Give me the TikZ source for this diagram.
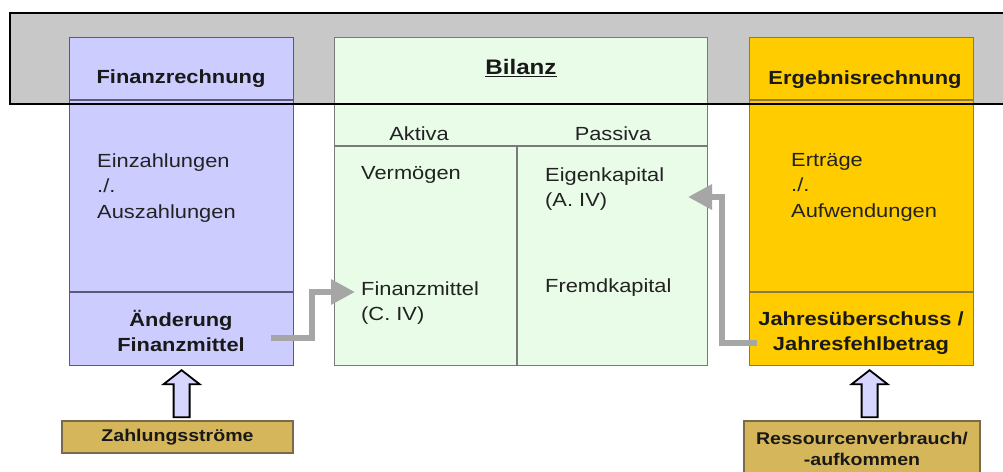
\documentclass[tikz,border=0pt]{standalone}
\usepackage{fontspec}
\setmainfont{Liberation Sans}[FakeStretch=1.15]
\usetikzlibrary{arrows.meta,calc}
\definecolor{bandgray}{HTML}{C8C8C8}
\definecolor{bluefill}{HTML}{CCCCFF}
\definecolor{greenfill}{HTML}{E8FCE8}
\definecolor{yellowfill}{HTML}{FFCC00}
\definecolor{tanfill}{HTML}{D6B65A}
\definecolor{hollowfill}{HTML}{D6D6FF}
\definecolor{conncol}{HTML}{A6A6A6}
\definecolor{blueline}{HTML}{5A5A78}
\definecolor{greenline}{HTML}{7A7A7A}
\definecolor{yellowline}{HTML}{8C7A3C}
\definecolor{tanline}{HTML}{7A6A4A}
\definecolor{txtcol}{HTML}{222222}
\tikzset{
  panel/.style={anchor=north west, inner sep=0pt, line width=1.2pt},
  bluebox/.style={panel, fill=bluefill, draw=blueline},
  greenbox/.style={panel, fill=greenfill, draw=greenline},
  yellowbox/.style={panel, fill=yellowfill, draw=yellowline},
  tanbox/.style={fill=tanfill, draw=tanline, line width=1.2pt, inner sep=0pt, align=center,
    font=\bfseries\fontsize{17}{21}\selectfont, text=black!90},
  tx/.style={inner sep=0pt, align=left, text=txtcol, font=\fontsize{19}{25.5}\selectfont},
  hd/.style={inner sep=0pt, align=center, text=black!90, font=\bfseries\fontsize{19}{25}\selectfont},
  conn/.style={draw=conncol, line width=6pt, line join=miter, -{Triangle[length=24pt,width=24pt]}},
  hollow/.style={draw=black, fill=hollowfill, line width=1.8pt, line join=miter},
  divider/.style={line width=1.2pt}
}
\begin{document}
\begin{tikzpicture}[x=1pt,y=-1pt]
\useasboundingbox (0,0) rectangle (1003,471);
\fill[white] (0,0) rectangle (1003,471);
% grey band (fill behind)
\fill[bandgray] (10,13) rectangle (1010,104);
% panels
\node[bluebox, minimum width=224pt, minimum height=328pt] (fr) at (69,37) {};
\node[greenbox, minimum width=373pt, minimum height=328pt] (bi) at (334,37) {};
\node[yellowbox, minimum width=224pt, minimum height=328pt] (eg) at (749,37) {};
% dividers
\draw[divider, blueline] (fr.west |- 0,100) -- (fr.east |- 0,100);
\draw[divider, blueline] (fr.west |- 0,292) -- (fr.east |- 0,292);
\draw[divider, yellowline] (eg.west |- 0,100) -- (eg.east |- 0,100);
\draw[divider, yellowline] (eg.west |- 0,292) -- (eg.east |- 0,292);
\draw[divider, greenline] (bi.west |- 0,104) -- (bi.east |- 0,104);
\draw[divider, greenline] (bi.west |- 0,146) -- (bi.east |- 0,146);
\draw[divider, greenline] (517,146) -- (bi.south -| 517,0);
% band border on top
\draw[line width=2pt] (1010,13) -- (10,13) -- (10,104) -- (1010,104);
% texts
\node[hd] (frt) at (181,79) {Finanzrechnung};
\node[hd, font=\bfseries\fontsize{21}{24}\selectfont] (bit) at (521,68) {\underline{Bilanz}};
\node[hd] (egt) at (865,80) {Ergebnisrechnung};
\node[tx] (akt) at (419,134) {Aktiva};
\node[tx] (pas) at (613,134) {Passiva};
\node[tx, anchor=west] (ein) at (97,188) {Einzahlungen\\./.\\Auszahlungen};
\node[tx, anchor=west] (verm) at (361,175) {Vermögen};
\node[tx, anchor=west] (ek) at (545,189) {Eigenkapital\\(A. IV)};
\node[tx, anchor=west] (fm) at (361,303) {Finanzmittel\\(C. IV)};
\node[tx, anchor=west] (fk) at (545,288) {Fremdkapital};
\node[tx, anchor=west] (ertr) at (791,187) {Erträge\\./.\\Aufwendungen};
\node[hd] (aend) at (181,331) {Änderung\\Finanzmittel};
\node[hd] (jue) at (861,333) {Jahresüberschuss /\\Jahresfehlbetrag};
% bottom boxes
\node[tanbox, minimum width=231pt, minimum height=32pt] (zs) at (177.5,437) {\raisebox{-1.5pt}{Zahlungsströme}};
\node[tanbox, minimum width=236pt, minimum height=55pt] (rv) at (862,448.5) {Ressourcenverbrauch/\\-aufkommen};
% hollow arrows
\begin{scope}[shift={(fr.south)}]
\draw[hollow] (0,4) -- (18,18) -- (8,18) -- (8,51) -- (-8,51) -- (-8,18) -- (-18,18) -- cycle;
\end{scope}
\begin{scope}[shift={($(eg.south)+(8,0)$)}]
\draw[hollow] (0,4) -- (18,18) -- (8,18) -- (8,51) -- (-8,51) -- (-8,18) -- (-18,18) -- cycle;
\end{scope}
% grey connectors
\coordinate (c1s) at (271,338);
\coordinate (c1e) at (355,292);
\coordinate (c2s) at (757,343);
\coordinate (c2e) at (688,197);
\draw[conn] (c1s) -- ++(41,0) |- (c1e);
\draw[conn] (c2s) -- ++(-35,0) |- (c2e);
\end{tikzpicture}
\end{document}
